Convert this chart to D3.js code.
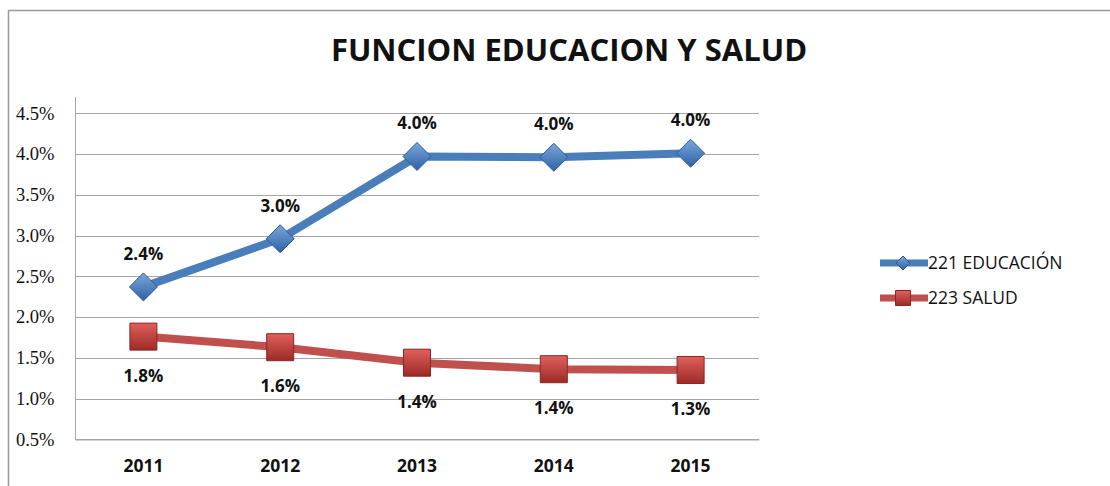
<!DOCTYPE html>
<html>
<head>
<meta charset="utf-8">
<script src="https://cdnjs.cloudflare.com/ajax/libs/d3/7.8.5/d3.min.js"></script>
<style>
  body { margin: 0; background: #fff; }
  svg { display: block; }
</style>
</head>
<body>
<script>
var years = ["2011", "2012", "2013", "2014", "2015"];
var educacion = [2.37, 2.96, 3.97, 3.96, 4.01];
var salud = [1.76, 1.63, 1.44, 1.36, 1.35];
var educacionLabels = ["2.4%", "3.0%", "4.0%", "4.0%", "4.0%"];
var saludLabels = ["1.8%", "1.6%", "1.4%", "1.4%", "1.3%"];
var yTicks = [0.5, 1.0, 1.5, 2.0, 2.5, 3.0, 3.5, 4.0, 4.5];
var seriesNames = ["221 EDUCACIÓN", "223 SALUD"];

var W = 1110, H = 486;
var plot = { left: 75, right: 759, top: 97, bottom: 439.3 };

var svg = d3.select("body").append("svg")
  .attr("width", W)
  .attr("height", H);

var defs = svg.append("defs");
function grad(id, c1, c2) {
  var g = defs.append("linearGradient")
    .attr("id", id)
    .attr("x1", 0).attr("y1", 0).attr("x2", 0).attr("y2", 1);
  g.append("stop").attr("offset", "0%").attr("stop-color", c1);
  g.append("stop").attr("offset", "100%").attr("stop-color", c2);
}
grad("gBlue", "#7aa6dc", "#2f62a3");
grad("gRed", "#e0605c", "#9c2a27");

// outer chart border
svg.append("rect")
  .attr("x", 8.5).attr("y", 10.5)
  .attr("width", 1110).attr("height", 490)
  .attr("fill", "none")
  .attr("stroke", "#9a9a9a")
  .attr("stroke-width", 1.5);

svg.append("text")
  .attr("x", 569)
  .attr("y", 61)
  .attr("text-anchor", "middle")
  .style("font-family", "'Open Sans', sans-serif")
  .style("font-weight", "bold")
  .style("font-size", "31px")
  .style("fill", "#111")
  .text("FUNCION EDUCACION Y SALUD");

var xScale = d3.scaleBand()
  .domain(years)
  .range([plot.left, plot.right]);

var yScale = d3.scaleLinear()
  .domain([0.5, 4.7])
  .range([plot.bottom, plot.top]);

function xc(i) { return xScale(years[i]) + xScale.bandwidth() / 2; }

// gridlines
svg.append("g")
  .selectAll("line")
  .data(yTicks)
  .enter()
  .append("line")
  .attr("x1", plot.left)
  .attr("x2", plot.right)
  .attr("y1", function (d) { return Math.round(yScale(d)) + 0.5; })
  .attr("y2", function (d) { return Math.round(yScale(d)) + 0.5; })
  .attr("stroke", "#a6a6a6")
  .attr("stroke-width", 1);

// y axis
var yAxis = d3.axisLeft(yScale)
  .tickValues(yTicks)
  .tickSize(0)
  .tickPadding(21)
  .tickFormat(function (d) { return d.toFixed(1) + "%"; });

var gy = svg.append("g")
  .attr("transform", "translate(" + (plot.left + 0.5) + ",0)")
  .call(yAxis);
gy.select(".domain").attr("stroke", "#a6a6a6").attr("d", "M0," + plot.top + "V" + plot.bottom);
gy.selectAll("text")
  .style("font-family", "'Liberation Serif', serif")
  .style("font-size", "18.5px")
  .style("fill", "#111");

// x axis
var xAxis = d3.axisBottom(xScale).tickSize(0).tickPadding(20);
var gx = svg.append("g")
  .attr("transform", "translate(0," + (Math.round(plot.bottom) + 0.5) + ")")
  .call(xAxis);
gx.select(".domain").attr("stroke", "#a6a6a6");
gx.selectAll("text")
  .style("font-family", "'Open Sans', sans-serif")
  .style("font-weight", "bold")
  .style("font-size", "17.5px")
  .style("fill", "#111");

var line = d3.line()
  .x(function (d, i) { return xc(i); })
  .y(function (d) { return yScale(d); });

function diamond(sel, r) {
  sel.attr("d", "M0," + (-r) + "L" + r + ",0L0," + r + "L" + (-r) + ",0Z")
    .attr("fill", "url(#gBlue)")
    .attr("stroke", "#2b5a96")
    .attr("stroke-width", 1);
}
function square(sel, s) {
  var h = s / 2;
  sel.attr("d", "M" + (-h) + "," + (-h) + "H" + h + "V" + h + "H" + (-h) + "Z")
    .attr("fill", "url(#gRed)")
    .attr("stroke", "#8a2523")
    .attr("stroke-width", 1);
}

// educacion
svg.append("path")
  .datum(educacion)
  .attr("d", line)
  .attr("fill", "none")
  .attr("stroke", "#4a7ebb")
  .attr("stroke-width", 8)
  .attr("stroke-linejoin", "round");

svg.append("g").selectAll("path")
  .data(educacion)
  .enter()
  .append("path")
  .attr("transform", function (d, i) { return "translate(" + xc(i) + "," + yScale(d) + ")"; })
  .call(diamond, 14);

// salud
svg.append("path")
  .datum(salud)
  .attr("d", line)
  .attr("fill", "none")
  .attr("stroke", "#c0504d")
  .attr("stroke-width", 8)
  .attr("stroke-linejoin", "round");

svg.append("g").selectAll("path")
  .data(salud)
  .enter()
  .append("path")
  .attr("transform", function (d, i) { return "translate(" + xc(i) + "," + yScale(d) + ")"; })
  .call(square, 27);

// data labels
function labels(values, texts, dy) {
  svg.append("g").selectAll("text")
    .data(values)
    .enter()
    .append("text")
    .attr("x", function (d, i) { return xc(i); })
    .attr("y", function (d) { return yScale(d) + dy; })
    .attr("text-anchor", "middle")
    .style("font-family", "'Open Sans', sans-serif")
    .style("font-weight", "bold")
    .style("font-size", "17px")
    .style("fill", "#111")
    .text(function (d, i) { return texts[i]; });
}
labels(educacion, educacionLabels, -27);
labels(salud, saludLabels, 45);

// legend
var legend = svg.append("g");
var legendY = [263, 298];
legend.append("line")
  .attr("x1", 880).attr("x2", 928)
  .attr("y1", legendY[0]).attr("y2", legendY[0])
  .attr("stroke", "#4a7ebb").attr("stroke-width", 7);
legend.append("path")
  .attr("transform", "translate(903," + legendY[0] + ")")
  .call(diamond, 7);
legend.append("line")
  .attr("x1", 880).attr("x2", 928)
  .attr("y1", legendY[1]).attr("y2", legendY[1])
  .attr("stroke", "#c0504d").attr("stroke-width", 7);
legend.append("path")
  .attr("transform", "translate(903," + legendY[1] + ")")
  .call(square, 15);

legend.selectAll("text")
  .data(seriesNames)
  .enter()
  .append("text")
  .attr("x", 928)
  .attr("y", function (d, i) { return legendY[i] + 6; })
  .style("font-family", "'Open Sans', sans-serif")
  .style("font-size", "17.5px")
  .style("fill", "#111")
  .text(function (d) { return d; });
</script>
</body>
</html>
